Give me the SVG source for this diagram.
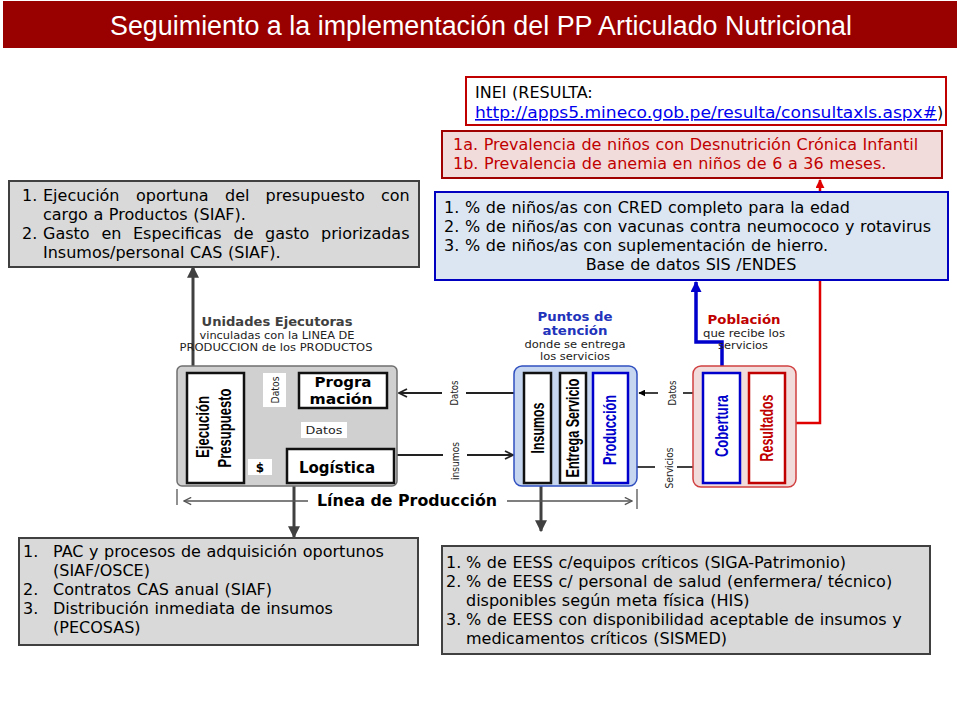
<svg xmlns="http://www.w3.org/2000/svg" width="960" height="720" viewBox="0 0 960 720">
<style>
.body{font-family:"DejaVu Sans",Verdana,sans-serif;font-size:16px;word-spacing:0.5px;fill:#000}
.redt{fill:#c00000}
.gbox{fill:#d9d9d9;stroke:#404040;stroke-width:2}
.rot{font-family:"Liberation Sans",Arial,sans-serif;font-weight:bold;font-size:18px;fill:#000}
.bold{font-family:"DejaVu Sans",Verdana,sans-serif;font-weight:bold;fill:#000}
.hdr{font-family:"DejaVu Sans",Verdana,sans-serif;font-weight:bold;font-size:12.5px}
.sub{font-family:"DejaVu Sans",Verdana,sans-serif;font-size:10px;fill:#222}
.tiny{font-family:"DejaVu Sans",Verdana,sans-serif;font-size:10.5px;fill:#222}
.inner{fill:#fff;stroke:#111;stroke-width:2.5}
.conn{fill:none;stroke:#404040}
</style>
<defs>
<marker id="tri" markerUnits="userSpaceOnUse" markerWidth="12" markerHeight="12" viewBox="0 0 10 10" refX="9" refY="5" orient="auto"><path d="M0,0 L10,5 L0,10 z" fill="#404040"/></marker>
<marker id="chev" markerUnits="userSpaceOnUse" markerWidth="10" markerHeight="10" viewBox="0 0 10 10" refX="9" refY="5" orient="auto-start-reverse"><path d="M1,1 L9,5 L1,9" fill="none" stroke="#222" stroke-width="1.8"/></marker>
<marker id="chevg" markerUnits="userSpaceOnUse" markerWidth="9" markerHeight="9" viewBox="0 0 10 10" refX="9" refY="5" orient="auto"><path d="M1,1 L9,5 L1,9" fill="none" stroke="#555" stroke-width="1.5"/></marker>
<marker id="stri" markerUnits="userSpaceOnUse" markerWidth="7" markerHeight="7" viewBox="0 0 10 10" refX="9" refY="5" orient="auto"><path d="M0,0 L10,5 L0,10 z" fill="#000"/></marker>
<marker id="btri" markerUnits="userSpaceOnUse" markerWidth="11" markerHeight="11" viewBox="0 0 10 10" refX="9" refY="5" orient="auto"><path d="M0,0 L10,5 L0,10 z" fill="#0000cc"/></marker>
<marker id="rtri" markerUnits="userSpaceOnUse" markerWidth="9" markerHeight="9" viewBox="0 0 10 10" refX="9" refY="5" orient="auto"><path d="M0,0 L10,5 L0,10 z" fill="#e00000"/></marker>
</defs>

<rect width="960" height="720" fill="#fff"/>

<g id="title">
<rect x="3" y="1" width="954" height="47" fill="#990000"/>
<text x="110" y="35" font-family="'Liberation Sans',Arial,sans-serif" font-size="27" fill="#fff" textLength="742" lengthAdjust="spacingAndGlyphs">Seguimiento a la implementación del PP Articulado Nutricional</text>
</g>

<g id="connectors">
<line class="conn" x1="193" y1="383" x2="193" y2="267" stroke-width="3" marker-end="url(#tri)"/>
<circle cx="193" cy="383" r="4.5" fill="#404040"/>
<line class="conn" x1="294" y1="470" x2="294" y2="537" stroke-width="3" marker-end="url(#tri)"/>
<circle cx="294" cy="470" r="4.5" fill="#404040"/>
<line class="conn" x1="541" y1="467" x2="541" y2="531" stroke-width="3" marker-end="url(#tri)"/>
<circle cx="541" cy="467" r="4.5" fill="#404040"/>
<line x1="299" y1="389" x2="246" y2="389" stroke="#222" stroke-width="2" marker-end="url(#chev)"/>
<line x1="327" y1="410" x2="327" y2="447" stroke="#222" stroke-width="2" marker-start="url(#chev)" marker-end="url(#chev)"/>
<line x1="273" y1="467" x2="286" y2="467" stroke="#222" stroke-width="2" marker-end="url(#chev)"/>
<line x1="514" y1="393" x2="466" y2="393" stroke="#222" stroke-width="2"/>
<line x1="442" y1="393" x2="399" y2="393" stroke="#222" stroke-width="2" marker-end="url(#chev)"/>
<line x1="396" y1="455" x2="443" y2="455" stroke="#222" stroke-width="2"/>
<line x1="467" y1="455" x2="513" y2="455" stroke="#222" stroke-width="2" marker-end="url(#chev)"/>
<line x1="750" y1="393" x2="683" y2="393" stroke="#000" stroke-width="1.5"/>
<line x1="658" y1="393" x2="639" y2="393" stroke="#000" stroke-width="1.5" marker-end="url(#stri)"/>
<circle cx="750" cy="393" r="2.5" fill="#000"/>
<line x1="620" y1="467" x2="655" y2="467" stroke="#000" stroke-width="1.5"/>
<line x1="677" y1="467" x2="702" y2="467" stroke="#000" stroke-width="1.5" marker-end="url(#stri)"/>
<circle cx="620" cy="467" r="2.5" fill="#000"/>
<polyline points="722,384 722,342 696,342 696,282" fill="none" stroke="#0000cc" stroke-width="3.5" marker-end="url(#btri)"/>
<circle cx="722" cy="384" r="5.5" fill="#0000cc"/>
<polyline points="795,423 820,423 820,180" fill="none" stroke="#e00000" stroke-width="2.5" marker-end="url(#rtri)"/>
<line x1="308" y1="501" x2="184" y2="501" stroke="#555" stroke-width="1.3" marker-end="url(#chevg)"/>
<line x1="507" y1="501" x2="632" y2="501" stroke="#555" stroke-width="1.3" marker-end="url(#chevg)"/>
<line x1="177" y1="489" x2="177" y2="505" stroke="#555" stroke-width="1.3"/>
<line x1="637" y1="489" x2="637" y2="509" stroke="#555" stroke-width="1.3"/>
</g>

<g id="inei">
<rect x="466" y="77" width="480" height="48" fill="#fff" stroke="#c00000" stroke-width="2"/>
<text class="body" x="475" y="98">INEI (RESULTA:</text>
<text class="body" x="475" y="118"><tspan fill="#0000ee" text-decoration="underline" textLength="462" lengthAdjust="spacingAndGlyphs">http://apps5.mineco.gob.pe/resulta/consultaxls.aspx#</tspan><tspan>)</tspan></text>
</g>

<g id="resultados-ind">
<rect x="442" y="131" width="500" height="47" fill="#f2dcdb" stroke="#a00000" stroke-width="2"/>
<text class="body redt" x="453" y="150">1a. Prevalencia de niños con Desnutrición Crónica Infantil</text>
<text class="body redt" x="453" y="169">1b. Prevalencia de anemia en niños de 6 a 36 meses.</text>
</g>

<g id="cobertura-ind">
<rect x="435" y="192" width="513" height="88" fill="#dce6f2" stroke="#0000c0" stroke-width="2"/>
<text class="body" x="444" y="213">1.</text>
<text class="body" x="465" y="213">% de niños/as con CRED completo para la edad</text>
<text class="body" x="444" y="232">2.</text>
<text class="body" x="465" y="232">% de niños/as con vacunas contra neumococo y rotavirus</text>
<text class="body" x="444" y="251">3.</text>
<text class="body" x="465" y="251">% de niños/as con suplementación de hierro.</text>
<text class="body" x="691" y="270" text-anchor="middle">Base de datos SIS /ENDES</text>
</g>

<g id="presupuesto-ind">
<rect class="gbox" x="9" y="181" width="410" height="86"/>
<text class="body" y="201"><tspan x="22">1.</tspan><tspan x="43">Ejecución</tspan><tspan x="136">oportuna</tspan><tspan x="225">del</tspan><tspan x="265.5">presupuesto</tspan><tspan x="381">con</tspan></text>
<text class="body" x="43" y="220">cargo a Productos (SIAF).</text>
<text class="body" y="239"><tspan x="22">2.</tspan><tspan x="43">Gasto</tspan><tspan x="101.5">en</tspan><tspan x="133">Especificas</tspan><tspan x="233.5">de</tspan><tspan x="265">gasto</tspan><tspan x="321">priorizadas</tspan></text>
<text class="body" x="43" y="258">Insumos/personal CAS (SIAF).</text>
</g>

<g id="logistica-ind">
<rect class="gbox" x="19" y="538" width="399" height="107"/>
<text class="body" x="23" y="557">1.</text>
<text class="body" x="53" y="557">PAC y procesos de adquisición oportunos</text>
<text class="body" x="53" y="576">(SIAF/OSCE)</text>
<text class="body" x="23" y="595">2.</text>
<text class="body" x="53" y="595">Contratos CAS anual (SIAF)</text>
<text class="body" x="23" y="614">3.</text>
<text class="body" x="53" y="614">Distribución inmediata de insumos</text>
<text class="body" x="53" y="633">(PECOSAS)</text>
</g>

<g id="eess-ind">
<rect class="gbox" x="442" y="546" width="488" height="108"/>
<text class="body" x="446" y="568">1.</text>
<text class="body" x="466" y="568">% de EESS c/equipos críticos (SIGA-Patrimonio)</text>
<text class="body" x="446" y="587">2.</text>
<text class="body" x="466" y="587">% de EESS c/ personal de salud (enfermera/ técnico)</text>
<text class="body" x="466" y="606">disponibles según meta física (HIS)</text>
<text class="body" x="446" y="625">3.</text>
<text class="body" x="466" y="625">% de EESS con disponibilidad aceptable de insumos y</text>
<text class="body" x="466" y="644">medicamentos críticos (SISMED)</text>
</g>

<g id="unidades-ejecutoras">
<text class="hdr" x="277" y="326" text-anchor="middle" fill="#404040" textLength="151" lengthAdjust="spacingAndGlyphs">Unidades Ejecutoras</text>
<text class="sub" x="277" y="339" text-anchor="middle" textLength="155" lengthAdjust="spacingAndGlyphs">vinculadas con la LINEA DE</text>
<text class="sub" x="276" y="351" text-anchor="middle" textLength="193" lengthAdjust="spacingAndGlyphs">PRODUCCION de los PRODUCTOS</text>
<rect x="177" y="366" width="220" height="120" rx="5" fill="#d0d0d0" stroke="#6f6f6f" stroke-width="1.5"/>
</g>

<g id="ejecucion">
<rect class="inner" x="187" y="373" width="57" height="110"/>
<text class="rot" transform="translate(209,427) rotate(-90)" text-anchor="middle" textLength="62" lengthAdjust="spacingAndGlyphs">Ejecución</text>
<text class="rot" transform="translate(231,428) rotate(-90)" text-anchor="middle" textLength="79" lengthAdjust="spacingAndGlyphs">Presupuesto</text>
</g>

<g id="programacion">
<rect class="inner" x="299" y="373" width="88" height="35"/>
<text class="bold" x="343" y="387" font-size="14" text-anchor="middle" textLength="57" lengthAdjust="spacingAndGlyphs">Progra</text>
<text class="bold" x="341" y="404" font-size="14" text-anchor="middle" textLength="63" lengthAdjust="spacingAndGlyphs">mación</text>
</g>

<g id="logistica">
<rect class="inner" x="287" y="449" width="107" height="34"/>
<text class="bold" x="337" y="473" font-size="16" text-anchor="middle" textLength="76" lengthAdjust="spacingAndGlyphs">Logística</text>
</g>

<g id="labels">
<rect x="263" y="373" width="23" height="34" fill="#fff"/>
<text class="tiny" transform="translate(278.5,390) rotate(-90)" text-anchor="middle" textLength="27" lengthAdjust="spacingAndGlyphs">Datos</text>
<rect x="301" y="422" width="46" height="16" fill="#fff"/>
<text class="tiny" x="324" y="434" text-anchor="middle" textLength="37" lengthAdjust="spacingAndGlyphs">Datos</text>
<rect x="248" y="459" width="24" height="16" fill="#fff"/>
<text class="bold" x="260" y="472" font-size="12" text-anchor="middle">$</text>
<text class="tiny" transform="translate(458,393) rotate(-90)" text-anchor="middle" textLength="25" lengthAdjust="spacingAndGlyphs">Datos</text>
<text class="tiny" transform="translate(459,461) rotate(-90)" text-anchor="middle" textLength="38" lengthAdjust="spacingAndGlyphs">insumos</text>
<text class="tiny" transform="translate(676,393) rotate(-90)" text-anchor="middle" textLength="25" lengthAdjust="spacingAndGlyphs">Datos</text>
<text class="tiny" transform="translate(673,468) rotate(-90)" text-anchor="middle" textLength="41" lengthAdjust="spacingAndGlyphs">Servicios</text>
<text class="bold" x="407" y="506" font-size="15" fill="#222" text-anchor="middle" textLength="180" lengthAdjust="spacingAndGlyphs">Línea de Producción</text>
</g>

<g id="puntos-atencion">
<text class="hdr" x="575" y="321" text-anchor="middle" fill="#2233bb" textLength="75" lengthAdjust="spacingAndGlyphs">Puntos de</text>
<text class="hdr" x="575" y="335" text-anchor="middle" fill="#2233bb" textLength="65" lengthAdjust="spacingAndGlyphs">atención</text>
<text class="sub" x="575" y="348" text-anchor="middle" textLength="101" lengthAdjust="spacingAndGlyphs">donde se entrega</text>
<text class="sub" x="575" y="360" text-anchor="middle" textLength="70" lengthAdjust="spacingAndGlyphs">los servicios</text>
<rect x="514" y="366" width="123" height="120" rx="8" fill="#c6d6f0" stroke="#3050c0" stroke-width="1.5"/>
</g>

<g id="insumos">
<rect class="inner" x="524" y="373" width="27" height="110"/>
<text class="rot" transform="translate(544,428) rotate(-90)" text-anchor="middle" textLength="51" lengthAdjust="spacingAndGlyphs">Insumos</text>
</g>

<g id="entrega-servicio">
<rect class="inner" x="560" y="373" width="26" height="110"/>
<text class="rot" transform="translate(579,428) rotate(-90)" text-anchor="middle" textLength="99" lengthAdjust="spacingAndGlyphs">Entrega Servicio</text>
</g>

<g id="produccion">
<rect x="593" y="373" width="35" height="110" fill="#fff" stroke="#0000cc" stroke-width="2.5"/>
<text class="rot" transform="translate(616,430) rotate(-90)" text-anchor="middle" style="fill:#0000cc" textLength="70" lengthAdjust="spacingAndGlyphs">Producción</text>
</g>

<g id="poblacion">
<text class="hdr" x="744" y="324" text-anchor="middle" fill="#c00000" textLength="73" lengthAdjust="spacingAndGlyphs">Población</text>
<text class="sub" x="744" y="337" text-anchor="middle" textLength="82" lengthAdjust="spacingAndGlyphs">que recibe los</text>
<text class="sub" x="743" y="349" text-anchor="middle" textLength="50" lengthAdjust="spacingAndGlyphs">servicios</text>
<rect x="693" y="366" width="103" height="121" rx="8" fill="#f2dcdb" stroke="#d04040" stroke-width="1.5"/>
</g>

<g id="cobertura">
<rect x="703" y="373" width="37" height="110" fill="#fff" stroke="#0000cc" stroke-width="2.5"/>
<text class="rot" transform="translate(728,426) rotate(-90)" text-anchor="middle" style="fill:#0000cc" textLength="62" lengthAdjust="spacingAndGlyphs">Cobertura</text>
</g>

<g id="resultados">
<rect x="749" y="373" width="36" height="110" fill="#fff" stroke="#c00000" stroke-width="2.5"/>
<text class="rot" transform="translate(773,428) rotate(-90)" text-anchor="middle" style="fill:#c00000" textLength="67" lengthAdjust="spacingAndGlyphs">Resultados</text>
</g>
</svg>
